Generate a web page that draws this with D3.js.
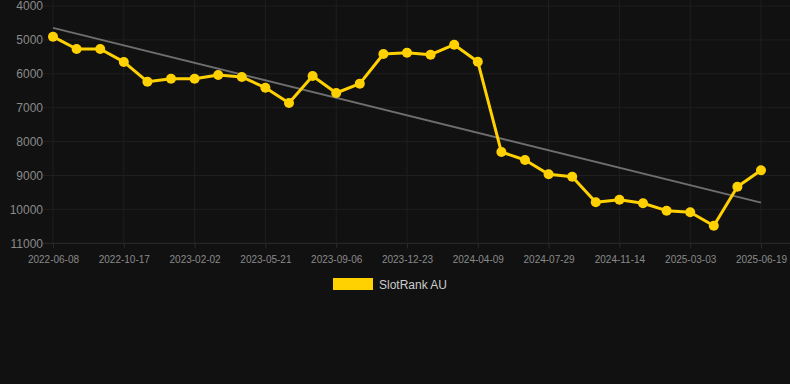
<!DOCTYPE html>
<html><head><meta charset="utf-8">
<script src="https://cdn.jsdelivr.net/npm/d3@7"></script>
<style>
html,body{margin:0;padding:0;background:#111111;}
svg{display:block;font-family:"Liberation Sans",Arial,Helvetica,sans-serif;}
</style></head><body>
<svg id="c" width="790" height="384"></svg>
<script>
const categories = [
 "2022-06-08","2022-07-22","2022-09-04","2022-10-17","2022-11-22","2022-12-28",
 "2023-02-02","2023-03-10","2023-04-15","2023-05-21","2023-06-26","2023-08-01",
 "2023-09-06","2023-10-12","2023-11-17","2023-12-23","2024-01-28","2024-03-04",
 "2024-04-09","2024-05-16","2024-06-22","2024-07-29","2024-09-04","2024-10-09",
 "2024-11-14","2024-12-20","2025-01-25","2025-03-03","2025-04-08","2025-05-14",
 "2025-06-19"];
const slotRankAU = [
 4905,5268,5268,5650,6233,6144,6144,6035,6094,6410,6861,6065,6566,6290,5416,
 5377,5436,5141,5643,8307,8543,8965,9035,9791,9713,9820,10038,10086,10481,9330,8847];
const yTicks = [4000,5000,6000,7000,8000,9000,10000,11000];
const seriesName = "SlotRank AU";

const svg = d3.select("#c");
const x = d3.scalePoint().domain(categories).range([53, 761]);
const y = d3.scaleLinear().domain([4000, 11000]).range([6, 243.3]);
const gridLeft = 43, gridRight = 790;

// horizontal grid
svg.append("g").selectAll("line").data(yTicks).join("line")
  .attr("x1", gridLeft).attr("x2", gridRight)
  .attr("y1", d => y(d)).attr("y2", d => y(d))
  .attr("stroke", d => d === 11000 ? "#2c2c2c" : "#1f1f1f").attr("stroke-width", 1);

// vertical grid at labelled categories
const labelCats = categories.filter((d, i) => i % 3 === 0);
svg.append("g").selectAll("line").data(labelCats).join("line")
  .attr("x1", d => x(d)).attr("x2", d => x(d))
  .attr("y1", y(4000) - 6).attr("y2", y(11000))
  .attr("stroke", "#1f1f1f").attr("stroke-width", 1);

// y axis labels
const yAxis = d3.axisLeft(y).tickValues(yTicks).tickSize(0).tickPadding(0).tickFormat(d3.format("d"));
const gy = svg.append("g").attr("transform", `translate(${gridLeft},0)`).call(yAxis);
gy.select(".domain").remove();
gy.selectAll("text").attr("fill", "#8a8a8a").style("font-size", "12px")
  .style("font-family", '"Liberation Sans",Arial,sans-serif');

// x axis labels
const xAxis = d3.axisBottom(x).tickValues(labelCats).tickSize(5).tickPadding(8);
const gx = svg.append("g").attr("transform", `translate(0,${y(11000)})`).call(xAxis);
gx.select(".domain").remove();
gx.selectAll("line").attr("stroke", "#2a2a2a");
gx.selectAll("text").attr("fill", "#8a8a8a").style("font-size", "10px")
  .style("font-family", '"Liberation Sans",Arial,sans-serif');

// trend line (least squares on the series)
const n = slotRankAU.length;
const idx = d3.range(n);
const mx = d3.mean(idx), my = d3.mean(slotRankAU);
const slope = d3.sum(idx, i => (i - mx) * (slotRankAU[i] - my)) / d3.sum(idx, i => (i - mx) * (i - mx));
const icpt = my - slope * mx;
svg.append("line")
  .attr("x1", x(categories[0])).attr("y1", y(icpt))
  .attr("x2", x(categories[n - 1])).attr("y2", y(icpt + slope * (n - 1)))
  .attr("stroke", "#6e6e6e").attr("stroke-width", 2);

// series line
const line = d3.line().x((d, i) => x(categories[i])).y(d => y(d));
svg.append("path").datum(slotRankAU).attr("d", line)
  .attr("fill", "none").attr("stroke", "#FFD100").attr("stroke-width", 3)
  .attr("stroke-linejoin", "round");
svg.append("g").selectAll("circle").data(slotRankAU).join("circle")
  .attr("cx", (d, i) => x(categories[i])).attr("cy", d => y(d)).attr("r", 5)
  .attr("fill", "#FFD100");

// legend
svg.append("rect").attr("x", 333).attr("y", 278).attr("width", 40).attr("height", 12).attr("fill", "#FFD100");
svg.append("text").attr("x", 379).attr("y", 288.5).text(seriesName)
  .attr("fill", "#cccccc").style("font-size", "12px");
</script>
</body></html>
